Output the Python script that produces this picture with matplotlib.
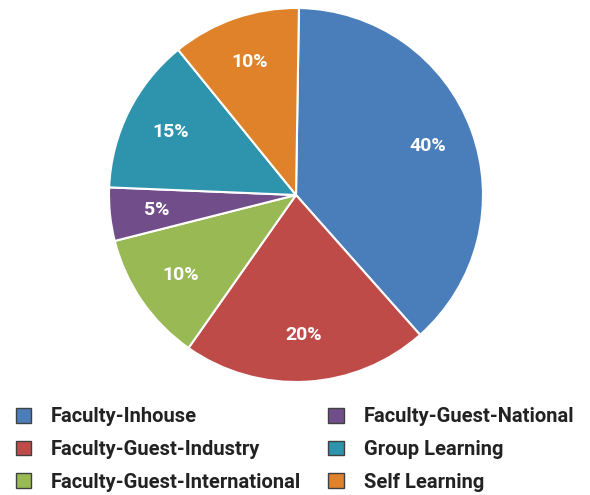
import matplotlib.pyplot as plt

categories = ['Faculty-Inhouse', 'Faculty-Guest-Industry', 'Faculty-Guest-International',
              'Faculty-Guest-National', 'Group Learning', 'Self Learning']
shares = [38.2, 21.3, 11.3, 4.6, 13.5, 11.1]  # slice sizes as drawn
pct_labels = ['40%', '20%', '10%', '5%', '15%', '10%']  # text printed on the slices
colors = ['#4A7EBB', '#BE4B48', '#98B954', '#714E8A', '#2E93AD', '#DF8229']

plt.rcParams['font.family'] = ['Roboto', 'DejaVu Sans']

fig = plt.figure(figsize=(5.9, 4.95), dpi=100)
ax = fig.add_axes([109 / 590, 113 / 495, 374 / 590, 374 / 495])

wedges, texts, autotexts = ax.pie(
    shares, colors=colors, startangle=89.1, counterclock=False,
    autopct='%1.0f%%', pctdistance=0.75,
    wedgeprops=dict(edgecolor='white', linewidth=1.5))
for t, s in zip(autotexts, pct_labels):
    t.set_text(s)
    t.set_color('white')
    t.set_fontsize(14)
    t.set_fontweight('bold')
ax.set_xlim(-1, 1)
ax.set_ylim(-1, 1)
ax.set_aspect('equal')

handles = [plt.Rectangle((0, 0), 1, 1, facecolor=c, edgecolor='#404040', linewidth=1)
           for c in colors]
# legend fills column by column, like the reference
fig.legend(handles, categories, ncol=2, loc='lower left', bbox_to_anchor=(-0.004, -0.03),
           frameon=False, prop={'weight': 'bold', 'size': 14.5},
           handlelength=0.75, handleheight=0.75, handletextpad=1.0,
           columnspacing=1.35, labelspacing=0.68, labelcolor='#222222')

fig.savefig('out.png', dpi=100)
